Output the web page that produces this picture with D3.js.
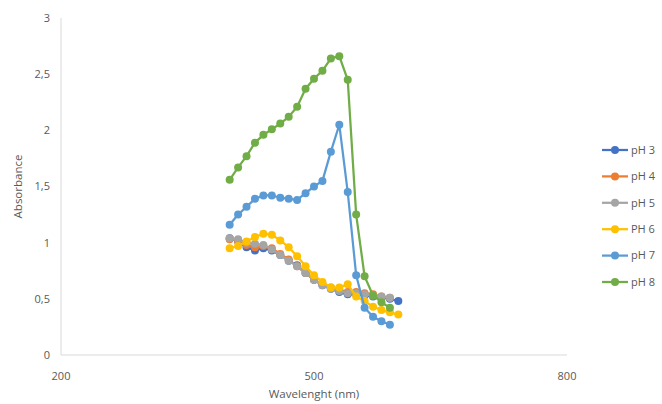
<!DOCTYPE html>
<html>
<head>
<meta charset="utf-8">
<script src="https://cdn.jsdelivr.net/npm/d3@7"></script>
<style>
  html, body { margin: 0; padding: 0; background: #fff; }
  svg { display: block; font-family: "Open Sans", "Liberation Sans", sans-serif; }
  .tick-label { fill: #595959; font-size: 11px; }
  .axis-title { fill: #595959; font-size: 11.5px; }
  .legend-label { fill: #595959; font-size: 11px; }
</style>
</head>
<body>
<div id="chart"></div>
<script>
// Absorbance spectra at different pH (wavelength in nm)
const wavelengths = [400, 410, 420, 430, 440, 450, 460, 470, 480, 490, 500,
                     510, 520, 530, 540, 550, 560, 570, 580, 590, 600];

const seriesNames = ['pH 3', 'pH 4', 'pH 5', 'PH 6', 'pH 7', 'pH 8'];
const seriesColors = ['#4472C4', '#ED7D31', '#A5A5A5', '#FFC000', '#5B9BD5', '#70AD47'];

const ph3 = [1.04, 1.01, 0.96, 0.93, 0.95, 0.93, 0.89, 0.84, 0.80, 0.73, 0.67,
             0.62, 0.59, 0.56, 0.54, 0.54, 0.53, 0.52, 0.51, 0.50, 0.48];
const ph4 = [1.03, 1.02, 0.98, 0.96, 0.97, 0.95, 0.90, 0.85, 0.79, 0.73, 0.67,
             0.63, 0.60, 0.58, 0.56, 0.56, 0.55, 0.54, 0.52, 0.51];
const ph5 = [1.04, 1.03, 1.00, 0.99, 0.98, 0.94, 0.89, 0.84, 0.79, 0.73, 0.67,
             0.62, 0.59, 0.57, 0.55, 0.55, 0.54, 0.53, 0.52, 0.51];
const ph6 = [0.95, 0.97, 1.01, 1.05, 1.08, 1.07, 1.02, 0.96, 0.88, 0.79, 0.71,
             0.65, 0.60, 0.60, 0.63, 0.52, 0.48, 0.43, 0.40, 0.38, 0.36];
const ph7 = [1.16, 1.25, 1.32, 1.39, 1.42, 1.42, 1.40, 1.39, 1.38, 1.44, 1.50,
             1.55, 1.81, 2.05, 1.45, 0.71, 0.42, 0.34, 0.30, 0.27];
const ph8 = [1.56, 1.67, 1.77, 1.89, 1.96, 2.01, 2.06, 2.12, 2.21, 2.37, 2.46,
             2.53, 2.64, 2.66, 2.45, 1.25, 0.70, 0.53, 0.47, 0.42];

const seriesValues = [ph3, ph4, ph5, ph6, ph7, ph8];

const xTicks = [200, 500, 800];
const yTicks = [0, 0.5, 1, 1.5, 2, 2.5, 3];

const width = 662;
const height = 404;
const margin = { top: 18, right: 95, bottom: 49, left: 61 };

const x = d3.scaleLinear().domain([200, 800]).range([margin.left, width - margin.right]);
const y = d3.scaleLinear().domain([0, 3]).range([height - margin.bottom, margin.top]);

const svg = d3.select('#chart').append('svg')
  .attr('width', width)
  .attr('height', height);

// axes: thin light grey lines, no ticks
svg.append('line')
  .attr('x1', x(200)).attr('x2', x(200))
  .attr('y1', y(0)).attr('y2', y(3))
  .attr('stroke', '#d9d9d9').attr('stroke-width', 1);
svg.append('line')
  .attr('x1', x(200)).attr('x2', x(800))
  .attr('y1', y(0)).attr('y2', y(0))
  .attr('stroke', '#d9d9d9').attr('stroke-width', 1);

const fmt = v => String(v).replace('.', ',');

svg.append('g').selectAll('text')
  .data(yTicks)
  .join('text')
  .attr('class', 'tick-label')
  .attr('x', x(200) - 11)
  .attr('y', d => y(d))
  .attr('dy', '0.35em')
  .attr('text-anchor', 'end')
  .text(fmt);

svg.append('g').selectAll('text')
  .data(xTicks)
  .join('text')
  .attr('class', 'tick-label')
  .attr('x', d => x(d))
  .attr('y', y(0) + 21)
  .attr('dy', '0.35em')
  .attr('text-anchor', 'middle')
  .text(d => d);

svg.append('text')
  .attr('class', 'axis-title')
  .attr('transform', `translate(22,${(y(0) + y(3)) / 2}) rotate(-90)`)
  .attr('text-anchor', 'middle')
  .text('Absorbance');

svg.append('text')
  .attr('class', 'axis-title')
  .attr('x', x(500))
  .attr('y', 398)
  .attr('text-anchor', 'middle')
  .text('Wavelenght (nm)');

// series
const line = d3.line()
  .x(d => x(d[0]))
  .y(d => y(d[1]));

const plot = svg.append('g');
seriesValues.forEach((vals, i) => {
  const pts = vals.map((v, j) => [wavelengths[j], v]);
  const g = plot.append('g');
  g.append('path')
    .datum(pts)
    .attr('fill', 'none')
    .attr('stroke', seriesColors[i])
    .attr('stroke-width', 2.25)
    .attr('stroke-linejoin', 'round')
    .attr('d', line);
  g.selectAll('circle')
    .data(pts)
    .join('circle')
    .attr('cx', d => x(d[0]))
    .attr('cy', d => y(d[1]))
    .attr('r', 4)
    .attr('fill', seriesColors[i]);
});

// legend
const legend = svg.append('g');
const legendY = d3.scaleLinear().domain([0, 5]).range([150, 282]);
seriesNames.forEach((name, i) => {
  const ly = legendY(i);
  legend.append('line')
    .attr('x1', 602).attr('x2', 628)
    .attr('y1', ly).attr('y2', ly)
    .attr('stroke', seriesColors[i]).attr('stroke-width', 2.25);
  legend.append('circle')
    .attr('cx', 615).attr('cy', ly).attr('r', 4)
    .attr('fill', seriesColors[i]);
  legend.append('text')
    .attr('class', 'legend-label')
    .attr('x', 631).attr('y', ly)
    .attr('dy', '0.35em')
    .text(name);
});
</script>
</body>
</html>
